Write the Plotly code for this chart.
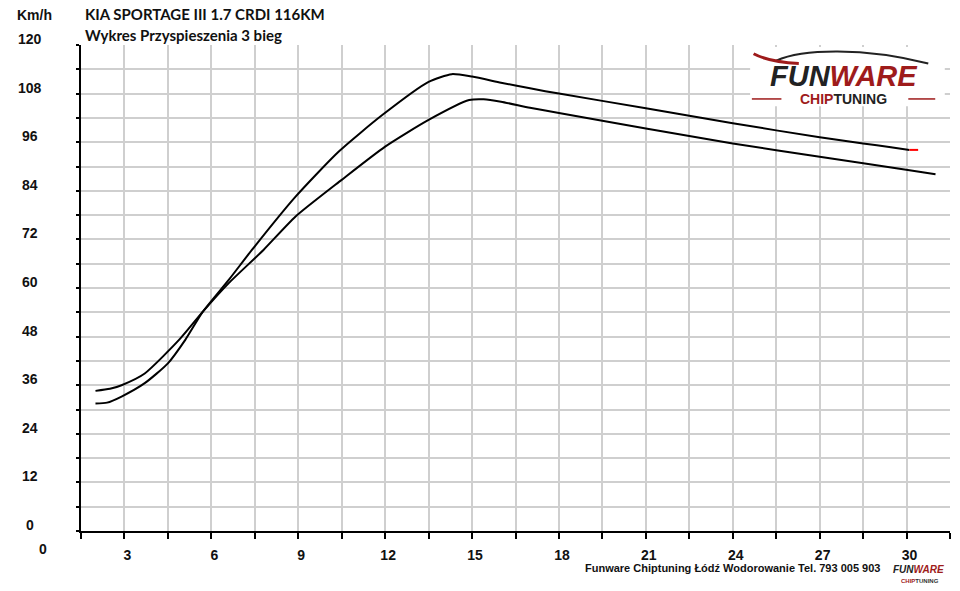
import plotly.graph_objects as go

# Acceleration curves (time in s, speed in km/h)
tuned_x = [2.0, 2.4, 2.9, 3.7, 4.5, 5.1, 5.7, 6.6, 7.4, 8.9, 10.4, 11.9, 13.5, 14.3, 15.0, 16.0, 17.0, 18.0, 21.0, 24.0, 27.0, 30.1]
tuned_y = [31.5, 31.7, 33.2, 36.5, 41.4, 47.2, 54.1, 62.0, 69.4, 82.5, 93.7, 102.7, 110.9, 112.8, 112.2, 110.7, 109.3, 108.0, 104.4, 100.7, 97.2, 94.1]

stock_x = [2.0, 2.5, 2.9, 3.7, 4.9, 5.7, 6.6, 7.8, 8.9, 10.5, 12.0, 13.5, 14.9, 15.4, 16.0, 17.0, 18.0, 21.0, 24.0, 27.0, 30.1, 31.0]
stock_y = [34.6, 35.1, 36.0, 38.9, 47.3, 54.1, 61.2, 69.4, 77.6, 86.7, 94.9, 101.5, 106.4, 106.6, 106.0, 104.5, 103.2, 99.4, 95.7, 92.4, 89.1, 88.1]

# small red tip at the end of the tuned curve
tip_x = [30.1, 30.4]
tip_y = [94.1, 94.1]

x_grid = [1.5 * i for i in range(1, 22)]
x_labels = [str(int(v)) if v % 3 == 0 else "" for v in x_grid]
y_grid = list(range(0, 121, 6))
y_labels = list(range(0, 121, 12))

num_font = dict(family="Liberation Sans", size=14, color="#111", weight="bold")
red = "#9e1b1b"

fig = go.Figure()
fig.add_trace(go.Scatter(x=stock_x, y=stock_y, mode="lines",
                         line=dict(color="black", width=2, shape="spline", smoothing=0.6)))
fig.add_trace(go.Scatter(x=tuned_x, y=tuned_y, mode="lines",
                         line=dict(color="black", width=2, shape="spline", smoothing=0.6)))
fig.add_trace(go.Scatter(x=tip_x, y=tip_y, mode="lines", line=dict(color="red", width=2)))

fig.update_xaxes(range=[1.5, 31.5], tickvals=x_grid, ticktext=x_labels,
                 showgrid=True, gridcolor="#cfcfcf", gridwidth=1.5,
                 showline=True, linecolor="black", linewidth=2,
                 ticks="outside", ticklen=6, tickwidth=1.5, tickcolor="black",
                 tickfont=num_font, ticklabelstandoff=4, ticklabelshift=3,
                 zeroline=False)
fig.update_yaxes(range=[0, 120], tickvals=y_grid, showticklabels=False,
                 showgrid=True, gridcolor="#cfcfcf", gridwidth=1.5,
                 showline=True, linecolor="black", linewidth=2,
                 ticks="outside", ticklen=3, tickwidth=1.5, tickcolor="black",
                 zeroline=False)

annotations = []
for v in y_labels:
    annotations.append(dict(text=str(v), xref="paper", yref="y", x=-0.059, y=v,
                            yshift=6, xanchor="center", yanchor="middle",
                            showarrow=False, font=num_font))
# the "0" of the time axis sits left of the plot area
annotations.append(dict(text="0", xref="paper", yref="paper", x=-0.0443, y=0,
                        yshift=-18, xanchor="center", yanchor="middle",
                        showarrow=False, font=num_font))
annotations += [
    dict(text="Km/h", xref="paper", yref="paper", x=-0.053, y=1.062,
         xanchor="center", yanchor="middle", showarrow=False, font=num_font),
    dict(text="KIA SPORTAGE III 1.7 CRDI 116KM", xref="paper", yref="paper",
         x=0.002, y=1.064, xanchor="left", yanchor="middle", showarrow=False,
         font=dict(family="Lato", size=15, color="#111", weight="bold")),
    dict(text="Wykres Przyspieszenia 3 bieg", xref="paper", yref="paper",
         x=0.002, y=1.021, xanchor="left", yanchor="middle", showarrow=False,
         font=dict(family="Lato", size=15, color="#111", weight="bold")),
    dict(text="Funware Chiptuning Łódź Wodorowanie Tel. 793 005 903",
         xref="paper", yref="paper", x=0.922, y=-0.076, xanchor="right", yanchor="middle",
         showarrow=False, font=dict(family="Liberation Sans", size=11, color="#111", weight="bold")),
    dict(text="<span style='color:#222'>FUN</span><span style='color:%s'>WARE</span>" % red,
         xref="paper", yref="paper", x=0.964, y=-0.079, xanchor="center", yanchor="middle",
         showarrow=False, font=dict(family="Liberation Sans", size=10, weight="bold", style="italic")),
    dict(text="<span style='color:%s'>CHIP</span>TUNING" % red,
         xref="paper", yref="paper", x=0.966, y=-0.102, xanchor="center", yanchor="middle",
         showarrow=False, font=dict(family="Liberation Sans", size=6, color="#333", weight="bold")),
    # main logo
    dict(text="<span style='color:#222'>FUN</span><span style='color:%s'>WARE</span>" % red,
         xref="paper", yref="paper", x=0.878, y=0.937, xanchor="center", yanchor="middle",
         showarrow=False, font=dict(family="Liberation Sans", size=29, weight="bold", style="italic")),
    dict(text="<span style='color:%s'>CHIP</span>TUNING" % red,
         xref="paper", yref="paper", x=0.878, y=0.889, xanchor="center", yanchor="middle",
         showarrow=False, font=dict(family="Liberation Sans", size=14, color="#222", weight="bold")),
]

shapes = [
    dict(type="rect", xref="paper", yref="paper", x0=0.770, x1=0.994, y0=0.874, y1=0.996,
         fillcolor="white", line=dict(width=0), layer="above"),
    dict(type="line", xref="paper", yref="paper", x0=0.772, x1=0.806, y0=0.889, y1=0.889,
         line=dict(color=red, width=1.5), layer="above"),
    dict(type="line", xref="paper", yref="paper", x0=0.952, x1=0.983, y0=0.889, y1=0.889,
         line=dict(color=red, width=1.5), layer="above"),
    dict(type="path", xref="paper", yref="paper",
         path="M 0.800 0.968 C 0.830 0.992 0.900 0.996 0.975 0.962",
         line=dict(color="#222", width=2), layer="above"),
    dict(type="path", xref="paper", yref="paper",
         path="M 0.774 0.982 Q 0.792 0.965 0.826 0.962",
         line=dict(color=red, width=3), layer="above"),
]

fig.update_layout(width=960, height=591, showlegend=False, template="none",
                  paper_bgcolor="white", plot_bgcolor="white",
                  margin=dict(l=81, r=10, t=45, b=60),
                  annotations=annotations, shapes=shapes)

fig.write_html("out.html", config={"displayModeBar": False},
               post_script="document.body.style.margin='0';")
